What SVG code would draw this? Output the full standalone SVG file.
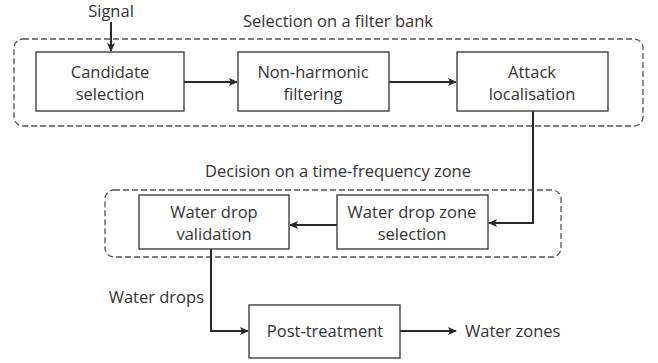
<svg xmlns="http://www.w3.org/2000/svg" width="658" height="363" viewBox="0 0 658 363">
<style>
text{font-family:"Open Sans","Liberation Sans",sans-serif;font-size:16.5px;fill:#333;}
.c{text-anchor:middle;}
.box{fill:#fff;stroke:#333;stroke-width:1.3;}
.grp{fill:none;stroke:#555;stroke-width:1.3;stroke-dasharray:6 3;}
.ln{fill:none;stroke:#2a2a2a;stroke-width:2;marker-end:url(#ah);}
</style>
<defs>
<marker id="ah" markerWidth="10" markerHeight="10" refX="8" refY="5" orient="auto" markerUnits="userSpaceOnUse">
<path d="M0,1 L9,5 L0,9 L2,5 Z" fill="#2a2a2a"/>
</marker>
</defs>
<rect width="658" height="363" fill="#fff"/>
<g id="group-filterbank">
<rect class="grp" x="14" y="39" width="629" height="87" rx="9"/>
<text class="c" x="338" y="27">Selection on a filter bank</text>
</g>
<g id="group-decision">
<rect class="grp" x="105" y="190" width="456" height="67" rx="9"/>
<text class="c" x="338" y="177">Decision on a time-frequency zone</text>
</g>
<g id="connectors">
<path class="ln" d="M111,22 V51"/>
<path class="ln" d="M184,82 H237"/>
<path class="ln" d="M389,82 H456"/>
<path class="ln" d="M533,111 V223 H489"/>
<path class="ln" d="M337,225 H290"/>
<path class="ln" d="M211,249 V331 H248"/>
<path class="ln" d="M400,331 H456"/>
</g>
<g id="signal"><text class="c" x="111" y="17">Signal</text></g>
<g id="candidate">
<rect class="box" x="36" y="52" width="148" height="59"/>
<text class="c" x="110" y="78">Candidate</text>
<text class="c" x="110" y="100">selection</text>
</g>
<g id="nonharmonic">
<rect class="box" x="238" y="52" width="151" height="59"/>
<text class="c" x="313" y="78">Non-harmonic</text>
<text class="c" x="313" y="100">filtering</text>
</g>
<g id="attack">
<rect class="box" x="457" y="52" width="151" height="59"/>
<text class="c" x="532" y="78">Attack</text>
<text class="c" x="532" y="100">localisation</text>
</g>
<g id="validation">
<rect class="box" x="139" y="195" width="150" height="54"/>
<text class="c" x="214" y="218">Water drop</text>
<text class="c" x="214" y="240">validation</text>
</g>
<g id="zoneselection">
<rect class="box" x="337" y="195" width="151" height="54"/>
<text class="c" x="412" y="218">Water drop zone</text>
<text class="c" x="412" y="240">selection</text>
</g>
<g id="waterdrops"><text x="204" y="303" text-anchor="end">Water drops</text></g>
<g id="posttreatment">
<rect class="box" x="249" y="305" width="151" height="53"/>
<text class="c" x="325" y="337">Post-treatment</text>
</g>
<g id="waterzones"><text x="465" y="337">Water zones</text></g>
</svg>
